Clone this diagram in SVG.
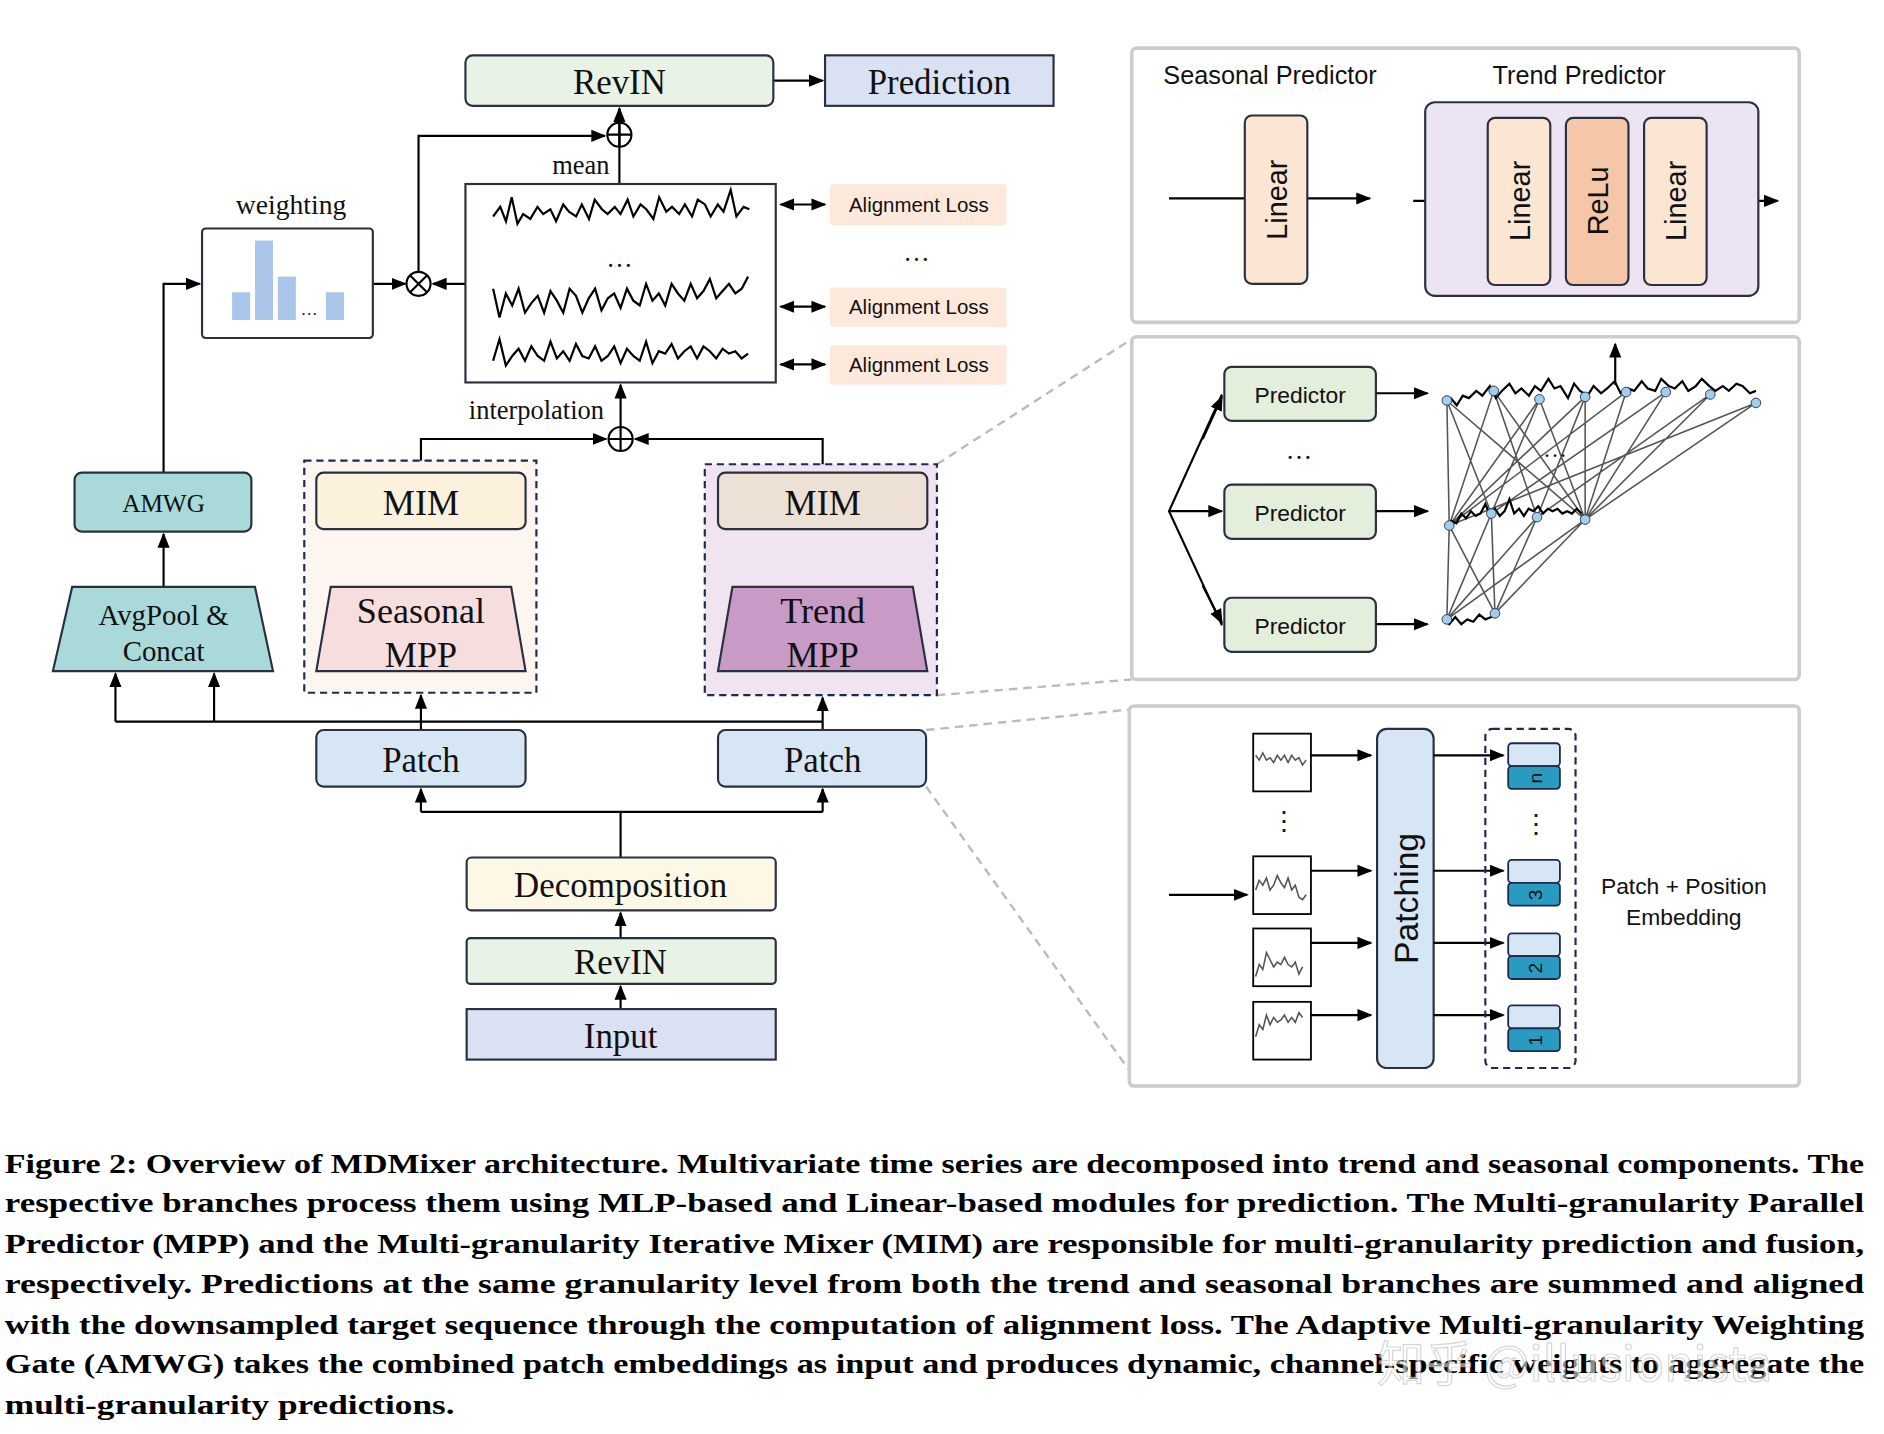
<svg xmlns="http://www.w3.org/2000/svg" width="1884" height="1434" viewBox="0 0 1884 1434">
<defs>
<marker id="ah" viewBox="0 0 10 10" refX="9" refY="5" markerWidth="7" markerHeight="7" orient="auto-start-reverse"><path d="M0,1 L10,5 L0,9 z" fill="#000"/></marker>
<style>
.b{stroke:#2b3040;stroke-width:1.8}
.t{font-family:"Liberation Serif",serif;fill:#111;text-anchor:middle}
.s{font-family:"Liberation Sans",sans-serif;fill:#111;text-anchor:middle}
.c{stroke:#000;stroke-width:1.8;fill:none}
.a{stroke:#000;stroke-width:1.8;fill:none;marker-end:url(#ah)}
.g{stroke:#555;stroke-width:1.3;fill:none}
.d{stroke:#1e2a50;stroke-width:1.8;stroke-dasharray:6 4}
.p{stroke:#ccc;stroke-width:3;fill:#fff}
.gd{stroke:#bbb;stroke-width:2;stroke-dasharray:7 5;fill:none}
.cap{font-family:"Liberation Serif",serif;font-weight:bold;font-size:22px;fill:#000}
.w{stroke:#000;stroke-width:2.2;fill:none;vector-effect:non-scaling-stroke}
</style>
</defs>
<rect width="1884" height="1434" fill="#fff"/>
<g transform="scale(1.2027)">
<g id="connectors">
<line class="a" x1="643" y1="67" x2="684" y2="67"/>
<line class="a" x1="515" y1="122" x2="515" y2="90"/>
<line class="c" x1="515" y1="153" x2="515" y2="122"/>
<polyline class="a" points="348,226 348,113 503,113"/>
<line class="a" x1="310" y1="236" x2="337" y2="236"/>
<line class="a" x1="387" y1="236" x2="360" y2="236"/>
<polyline class="a" points="136,393 136,236 166,236"/>
<line class="a" x1="136" y1="488" x2="136" y2="444"/>
<line class="a" x1="96" y1="600" x2="96" y2="560"/>
<line class="a" x1="178" y1="600" x2="178" y2="560"/>
<line class="c" x1="96" y1="600" x2="684" y2="600"/>
<line class="a" x1="350" y1="607" x2="350" y2="578"/>
<line class="a" x1="684" y1="607" x2="684" y2="580"/>
<line class="c" x1="350" y1="440" x2="350" y2="488"/>
<line class="c" x1="684" y1="440" x2="684" y2="488"/>
<polyline class="a" points="350,393 350,365 504,365"/>
<polyline class="a" points="684,393 684,365 528,365"/>
<line class="a" x1="516" y1="355" x2="516" y2="320"/>
<polyline class="c" points="516,713 516,675"/>
<line class="c" x1="350" y1="675" x2="684" y2="675"/>
<line class="a" x1="350" y1="675" x2="350" y2="656"/>
<line class="a" x1="684" y1="675" x2="684" y2="656"/>
<line class="a" x1="516" y1="780" x2="516" y2="759"/>
<line class="a" x1="516" y1="839" x2="516" y2="820"/>
<line class="a" x1="649" y1="170" x2="686" y2="170" marker-start="url(#ah)"/>
<line class="a" x1="649" y1="255" x2="686" y2="255" marker-start="url(#ah)"/>
<line class="a" x1="649" y1="303" x2="686" y2="303" marker-start="url(#ah)"/>
<line class="gd" x1="779" y1="386" x2="941" y2="282"/>
<line class="gd" x1="779" y1="578" x2="941" y2="565"/>
<line class="gd" x1="770" y1="607" x2="939" y2="590"/>
<line class="gd" x1="770" y1="654" x2="939" y2="890"/>
</g>
<g id="revin-top"><rect class="b" x="387" y="46" width="256" height="42" rx="6" fill="#e8f3e6"/><text class="t" x="515" y="78" font-size="29">RevIN</text></g>
<g id="prediction"><rect class="b" x="686" y="46" width="190" height="42" fill="#d9e1f2"/><text class="t" x="781" y="78" font-size="29">Prediction</text></g>
<g id="plus-top"><circle class="c" cx="515" cy="112" r="10" fill="#fff"/><path class="c" d="M505,112H525M515,102V122"/></g>
<text class="t" x="483" y="145" font-size="22">mean</text>
<g id="waves"><rect class="b" x="387" y="153" width="258" height="165" fill="#fff"/>
<path class="w" transform="translate(410,0) scale(1.19,1) translate(-410,0)" d="M410,180 l5,-8 4,12 4,-20 4,22 4,-8 5,4 5,-10 4,6 5,-4 4,10 5,-14 4,6 5,4 4,-10 5,12 4,-16 5,8 4,4 5,-6 4,6 5,-12 4,14 5,-10 4,4 5,8 4,-18 5,12 4,-4 5,6 4,-8 5,10 4,-14 5,4 4,10 5,-10 4,6 5,-18 4,22 5,-8 4,2"/>
<text class="t" x="515" y="222" font-size="22">…</text>
<path class="w" transform="translate(410,0) scale(1.06,1) translate(-410,0)" d="M410,240 l5,24 5,-20 5,10 5,-14 5,20 5,-8 5,-6 5,14 5,-18 5,8 5,10 5,-20 5,6 5,14 5,-12 5,-8 5,18 5,-10 5,-4 5,12 5,-16 5,10 5,4 5,-18 5,14 5,-6 5,10 5,-18 5,8 5,6 5,-14 5,12 5,-6 5,-10 5,16 5,-6 5,-6 5,8 5,-4 5,-10"/>
<path class="w" transform="translate(410,0) scale(1.06,1) translate(-410,0)" d="M410,300 l5,-18 5,22 5,-8 5,-6 5,10 5,-12 5,8 5,4 5,-16 5,14 5,-6 5,8 5,-14 5,10 5,2 5,-10 5,12 5,-4 5,-8 5,14 5,-12 5,6 5,4 5,-16 5,18 5,-10 5,2 5,-8 5,12 5,-6 5,-4 5,10 5,-10 5,4 5,6 5,-8 5,4 5,-2 5,6 5,-4"/>
</g>
<g id="al1"><rect x="690" y="153" width="147" height="34" rx="3" fill="#fde9dc"/><text class="s" x="764" y="176" font-size="17">Alignment Loss</text></g>
<text class="t" x="762" y="217" font-size="22">…</text>
<g id="al2"><rect x="690" y="239" width="147" height="33" rx="3" fill="#fde9dc"/><text class="s" x="764" y="261" font-size="17">Alignment Loss</text></g>
<g id="al3"><rect x="690" y="287" width="147" height="33" rx="3" fill="#fde9dc"/><text class="s" x="764" y="309" font-size="17">Alignment Loss</text></g>
<g id="weighting"><text class="t" x="242" y="178" font-size="23">weighting</text>
<rect class="b" x="168" y="190" width="142" height="91" rx="3" fill="#fff"/>
<g fill="#a9c6ea"><rect x="193" y="243" width="15" height="23"/><rect x="212" y="200" width="15" height="66"/><rect x="231" y="230" width="15" height="36"/><rect x="271" y="243" width="15" height="23"/></g>
<text class="t" x="257" y="262" font-size="14">…</text></g>
<g id="otimes"><circle class="c" cx="348" cy="236" r="10" fill="#fff"/><path class="c" d="M341,229L355,243M355,229L341,243"/></g>
<g id="amwg"><rect class="b" x="62" y="393" width="147" height="49" rx="6" fill="#a9d9d9"/><text class="t" x="136" y="426" font-size="21">AMWG</text></g>
<g id="avgpool"><path class="b" d="M60,488H212L227,558H44Z" fill="#a9d9d9"/><text class="t" x="136" y="520" font-size="24">AvgPool &amp;</text><text class="t" x="136" y="550" font-size="24">Concat</text></g>
<g id="seasonal"><rect class="d" x="253" y="383" width="193" height="193" fill="#fdf6f0"/>
<rect class="b" x="263" y="393" width="174" height="47" rx="6" fill="#fbf1dc"/><text class="t" x="350" y="428" font-size="30">MIM</text>
<path class="b" d="M275,488H425L437,558H263Z" fill="#f6dede"/><text class="t" x="350" y="518" font-size="30">Seasonal</text><text class="t" x="350" y="555" font-size="30">MPP</text></g>
<g id="trend"><rect class="d" x="586" y="386" width="193" height="192" fill="#efe4f0"/>
<rect class="b" x="597" y="393" width="174" height="47" rx="6" fill="#ede0d4"/><text class="t" x="684" y="428" font-size="30">MIM</text>
<path class="b" d="M609,488H759L771,558H597Z" fill="#c79bc6"/><text class="t" x="684" y="518" font-size="30">Trend</text><text class="t" x="684" y="555" font-size="30">MPP</text></g>
<g id="plus-mid"><circle class="c" cx="516" cy="365" r="10" fill="#fff"/><path class="c" d="M506,365H526M516,355V375"/></g>
<text class="t" x="446" y="348" font-size="22">interpolation</text>
<g id="patch1"><rect class="b" x="263" y="607" width="174" height="47" rx="6" fill="#d6e6f4"/><text class="t" x="350" y="642" font-size="29">Patch</text></g>
<g id="patch2"><rect class="b" x="597" y="607" width="173" height="47" rx="6" fill="#d6e6f4"/><text class="t" x="684" y="642" font-size="29">Patch</text></g>
<g id="decomp"><rect class="b" x="388" y="713" width="257" height="44" rx="4" fill="#fdf8e6"/><text class="t" x="516" y="746" font-size="29">Decomposition</text></g>
<g id="revin-bot"><rect class="b" x="388" y="780" width="257" height="38" rx="3" fill="#e8f3e6"/><text class="t" x="516" y="810" font-size="29">RevIN</text></g>
<g id="input"><rect class="b" x="388" y="839" width="257" height="42" fill="#d9e1f2"/><text class="t" x="516" y="871" font-size="29">Input</text></g>

<g id="panel1"><rect class="p" x="941" y="40" width="555" height="228" rx="4"/>
<text class="s" x="1056" y="70" font-size="21">Seasonal Predictor</text><text class="s" x="1313" y="70" font-size="21">Trend Predictor</text>
<line class="c" x1="972" y1="165" x2="1035" y2="165"/><line class="a" x1="1087" y1="165" x2="1139" y2="165"/>
<rect class="b" x="1035" y="96" width="52" height="140" rx="6" fill="#fbe6d4"/><text class="s" x="0" y="0" font-size="24" transform="translate(1070,166) rotate(-90)">Linear</text>
<line class="a" x1="1175" y1="167" x2="1478" y2="167"/>
<rect class="b" x="1185" y="85" width="277" height="161" rx="8" fill="#ece4f2"/>
<rect class="b" x="1237" y="98" width="52" height="139" rx="6" fill="#fbe6d4"/><text class="s" font-size="24" transform="translate(1272,167) rotate(-90)">Linear</text>
<rect class="b" x="1302" y="98" width="52" height="139" rx="6" fill="#f5c7a8"/><text class="s" font-size="24" transform="translate(1337,167) rotate(-90)">ReLu</text>
<rect class="b" x="1367" y="98" width="52" height="139" rx="6" fill="#fbe6d4"/><text class="s" font-size="24" transform="translate(1402,167) rotate(-90)">Linear</text></g>

<g id="panel2"><rect class="p" x="941" y="280" width="555" height="285" rx="4"/>
<polyline class="c" points="1016,328 972,425 1016,520"/><line class="a" x1="972" y1="425" x2="1016" y2="425"/>
<line class="a" x1="1000" y1="365" x2="1016" y2="330"/><line class="a" x1="1000" y1="487" x2="1016" y2="518"/>
<rect class="b" x="1018" y="305" width="126" height="45" rx="6" fill="#e3eedb"/><text class="s" x="1081" y="335" font-size="19">Predictor</text>
<text class="t" x="1080" y="382" font-size="22">…</text>
<rect class="b" x="1018" y="403" width="126" height="45" rx="6" fill="#e3eedb"/><text class="s" x="1081" y="433" font-size="19">Predictor</text>
<rect class="b" x="1018" y="497" width="126" height="45" rx="6" fill="#e3eedb"/><text class="s" x="1081" y="527" font-size="19">Predictor</text>
<line class="a" x1="1144" y1="327" x2="1187" y2="327"/><line class="a" x1="1144" y1="425" x2="1187" y2="425"/><line class="a" x1="1144" y1="519" x2="1187" y2="519"/>
<line class="a" x1="1343" y1="320" x2="1343" y2="286"/>
<g class="g">
<path d="M1203,333L1205,437M1203,333L1240,427M1203,333L1318,432M1242,325L1205,437M1242,325L1278,430M1242,325L1318,432M1280,332L1205,437M1280,332L1240,427M1280,332L1318,432M1318,330L1205,437M1318,330L1278,430M1318,330L1318,432M1352,326L1205,437M1352,326L1318,432M1385,326L1240,427M1385,326L1318,432M1422,328L1278,430M1422,328L1318,432M1460,335L1318,432M1460,335L1205,437"/>
<path d="M1205,437L1203,515M1205,437L1243,510M1240,427L1203,515M1240,427L1243,510M1278,430L1203,515M1278,430L1243,510M1318,432L1203,515M1318,432L1243,510"/>
</g>
<text class="t" x="1293" y="380" font-size="20" fill="#555">…</text>
<path class="w" transform="translate(1200,0) scale(1.25,1) translate(-1200,0)" d="M1200,335 l5,-4 4,6 4,-8 4,2 5,-6 4,4 5,-8 4,10 4,-6 5,-6 4,8 4,-4 5,6 4,-8 4,4 5,-10 4,8 4,-2 5,10 4,-12 4,6 5,4 4,-8 5,6 4,-4 5,-6 4,10 5,-4 4,2 5,-8 4,6 5,2 4,-10 5,6 4,2 5,-6 4,8 5,-4 4,-6 5,6 4,4 5,-4 4,4 5,-6 4,2 5,6 4,-2"/>
<path class="w" d="M1203,437 l4,-4 4,2 4,-8 4,4 4,-6 4,4 4,-2 4,-8 4,10 4,-6 4,6 4,-4 4,-10 4,12 4,-4 4,6 4,-6 4,2 4,-4 4,6 4,-4 4,2 4,-2 4,4 4,-2 4,2 4,-4 4,4"/>
<path class="w" d="M1200,515 l5,4 5,-6 5,6 5,-4 5,2 5,-6 5,4 5,-2 5,-2"/>
<g fill="#9fd0ea" stroke="#336" stroke-width="0.8"><circle cx="1203" cy="333" r="4"/><circle cx="1242" cy="325" r="4"/><circle cx="1280" cy="332" r="4"/><circle cx="1318" cy="330" r="4"/><circle cx="1352" cy="326" r="4"/><circle cx="1385" cy="326" r="4"/><circle cx="1422" cy="328" r="4"/><circle cx="1460" cy="335" r="4"/><circle cx="1205" cy="437" r="4"/><circle cx="1240" cy="427" r="4"/><circle cx="1278" cy="430" r="4"/><circle cx="1318" cy="432" r="4"/><circle cx="1203" cy="515" r="4"/><circle cx="1243" cy="510" r="4"/></g>
</g>

<g id="panel3"><rect class="p" x="939" y="587" width="557" height="316" rx="4"/>
<line class="a" x1="972" y1="744" x2="1037" y2="744"/>
<g fill="#fff" stroke="#000" stroke-width="1.5"><rect x="1042" y="610" width="48" height="48"/><rect x="1042" y="712" width="48" height="48"/><rect x="1042" y="772" width="48" height="48"/><rect x="1042" y="833" width="48" height="48"/></g>
<g class="g" stroke="#000"><path d="M1044,628 l3,4 3,-6 3,6 3,-2 3,4 3,-6 3,4 3,-4 3,6 3,-6 3,4 3,-2 3,6 3,-4"/><path d="M1044,740 l3,-8 3,4 3,-6 3,10 3,-4 3,-8 3,6 3,4 3,-8 3,10 3,-4 3,10 3,2 3,-4"/><path d="M1044,812 l3,-10 3,4 3,-14 3,6 3,6 3,-4 3,2 3,-6 3,6 3,2 3,-4 3,10 3,-6"/><path d="M1044,862 l3,-10 3,4 3,-12 3,8 3,-6 3,4 3,-2 3,-4 3,6 3,-4 3,4 3,-8 3,4"/></g>
<text class="t" x="1068" y="690" font-size="22">⋮</text>
<line class="a" x1="1090" y1="628" x2="1140" y2="628"/><line class="a" x1="1090" y1="724" x2="1140" y2="724"/><line class="a" x1="1090" y1="784" x2="1140" y2="784"/><line class="a" x1="1090" y1="844" x2="1140" y2="844"/>
<rect class="b" x="1145" y="606" width="47" height="282" rx="8" fill="#d6e6f4"/><text class="s" font-size="28" transform="translate(1179,747) rotate(-90)">Patching</text>
<line class="a" x1="1192" y1="628" x2="1250" y2="628"/><line class="a" x1="1192" y1="724" x2="1250" y2="724"/><line class="a" x1="1192" y1="784" x2="1250" y2="784"/><line class="a" x1="1192" y1="844" x2="1250" y2="844"/>
<rect class="d" x="1235" y="606" width="75" height="282" rx="6" fill="none"/>
<g stroke="#1e2a50" stroke-width="1.5">
<rect x="1254" y="618" width="43" height="19" rx="3" fill="#d6e6f4"/><rect x="1254" y="637" width="43" height="19" rx="3" fill="#2a9bc0"/>
<rect x="1254" y="715" width="43" height="19" rx="3" fill="#d6e6f4"/><rect x="1254" y="734" width="43" height="19" rx="3" fill="#2a9bc0"/>
<rect x="1254" y="776" width="43" height="19" rx="3" fill="#d6e6f4"/><rect x="1254" y="795" width="43" height="19" rx="3" fill="#2a9bc0"/>
<rect x="1254" y="836" width="43" height="19" rx="3" fill="#d6e6f4"/><rect x="1254" y="855" width="43" height="19" rx="3" fill="#2a9bc0"/></g>
<g class="s" font-size="16"><text transform="translate(1282,647) rotate(-90)">n</text><text transform="translate(1282,744) rotate(-90)">3</text><text transform="translate(1282,805) rotate(-90)">2</text><text transform="translate(1282,865) rotate(-90)">1</text></g>
<text class="t" x="1277" y="693" font-size="22">⋮</text>
<text class="s" x="1400" y="743" font-size="19">Patch + Position</text><text class="s" x="1400" y="769" font-size="19">Embedding</text></g>

<g id="caption">
<text class="cap" x="4" y="975" textLength="1546" lengthAdjust="spacingAndGlyphs">Figure 2: Overview of MDMixer architecture. Multivariate time series are decomposed into trend and seasonal components. The</text>
<text class="cap" x="4" y="1008" textLength="1546" lengthAdjust="spacingAndGlyphs">respective branches process them using MLP-based and Linear-based modules for prediction. The Multi-granularity Parallel</text>
<text class="cap" x="4" y="1042" textLength="1546" lengthAdjust="spacingAndGlyphs">Predictor (MPP) and the Multi-granularity Iterative Mixer (MIM) are responsible for multi-granularity prediction and fusion,</text>
<text class="cap" x="4" y="1075" textLength="1546" lengthAdjust="spacingAndGlyphs">respectively. Predictions at the same granularity level from both the trend and seasonal branches are summed and aligned</text>
<text class="cap" x="4" y="1109" textLength="1546" lengthAdjust="spacingAndGlyphs">with the downsampled target sequence through the computation of alignment loss. The Adaptive Multi-granularity Weighting</text>
<text class="cap" x="4" y="1142" textLength="1546" lengthAdjust="spacingAndGlyphs">Gate (AMWG) takes the combined patch embeddings as input and produces dynamic, channel-specific weights to aggregate the</text>
<text class="cap" x="4" y="1176" textLength="374" lengthAdjust="spacingAndGlyphs">multi-granularity predictions.</text>
<text x="1145" y="1148" font-family="Noto Sans CJK SC, Liberation Sans, sans-serif" font-size="40" fill="#fff" fill-opacity="0.55" stroke="#999" stroke-opacity="0.4">知乎 @illusionista</text>
</g>
</g>
</svg>
